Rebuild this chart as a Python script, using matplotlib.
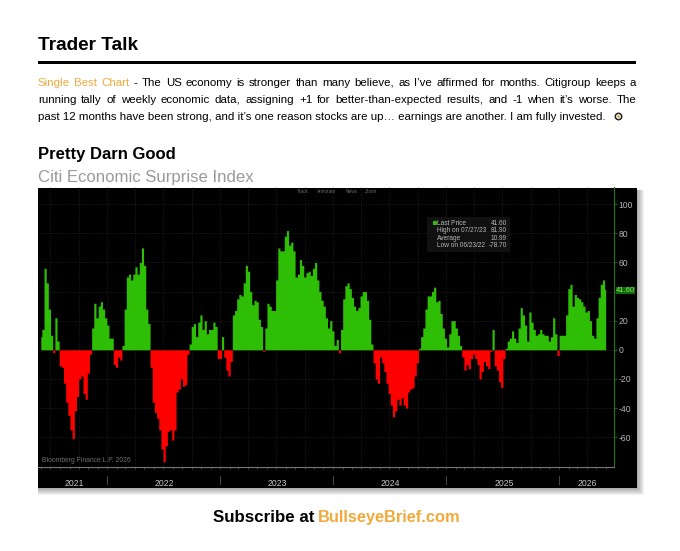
import numpy as np
import pandas as pd
import matplotlib
matplotlib.use("Agg")
import matplotlib.pyplot as plt
import matplotlib.dates as mdates
from matplotlib.patches import Rectangle

W, H = 680, 551
TITLE = "Trader Talk"
ORANGE = "#F2A93B"
LEAD = "Single Best Chart"
LINE1 = "- The US economy is stronger than many believe, as I\u2019ve affirmed for months. Citigroup keeps a"
LINE2 = "running tally of weekly economic data, assigning +1 for better-than-expected results, and -1 when it\u2019s worse. The"
LINE3 = "past 12 months have been strong, and it\u2019s one reason stocks are up\u2026 earnings are another. I am fully invested."
HEAD = "Pretty Darn Good"
SUB = "Citi Economic Surprise Index"
CTA1 = "Subscribe at"
CTA2 = "BullseyeBrief.com"

surprise_index = [
    9, 14, 56, 46, 28, 10, -2, 22, 6, -11, -12, -23, -36, -45, -55, -61, -42, -32, -20, -18, -30, -34, -16, -3,
    15, 32, 22, 30, 33, 28, 22, 17, 8, 8, -10, -12, -5, -7, 3, 28, 50, 52, 48, 52, 57, 52, 60, 70, 58, 28, 18,
    -12, -36, -43, -47, -55, -68, -77, -66, -56, -55, -62, -55, -29, -27, -20, -25, -24, -3,
    4, 16, 18, 9, 19, 24, 14, 20, 11, 14, 14, 19, 16, -6, -6, 9, -5, -14, -18, -8,
    24, 27, 35, 38, 37, 46, 58, 54, 40, 31, 34, 33, 21, 16, -1, 15, 32, 30, 27, 27, 48, 70, 68, 68, 78, 81.9, 72, 74, 68,
    50, 52, 62, 58, 50, 53, 54, 51, 56, 60, 48, 40, 34, 30, 22, 15,
    20, 13, 3, 7, -2, 14, 35, 44, 46, 42, 36, 30, 27, 29, 37, 40, 40, 34, 21, 4,
    -9, -20, -23, -5, -9, -15, -23, -30, -38, -46, -42, -34, -38, -33, -38, -40, -29, -27, -26, -18, -9,
    1, 9, 15, 28, 37, 37, 40, 43, 33, 34, 25, 15, 8, 2, 11, 20, 20, 15, 10, 3,
    -5, -14, -10, -13, -6, -3, -6, -10, -20, -15, -8, -11, -13, -1, 14, -11, -14, -22, -26, -6,
    1, 6, 8, 13, 8, 5, 15, 29, 24, 17, 6, 26, 19, 14, 10, 11, 14, 11, 10, 10, 6, 9, 22, 11, -4, 10, 10, 10, 24, 42, 45, 30,
    38, 36, 35, 33, 30, 26, 27, 20, 10, 8, 22, 36, 45, 48, 41.6,
]
y_ticks = [-60, -40, -20, 0, 20, 40, 60, 80, 100]
y_tick_labels = ["-60", "-40", "-20", "0", "20", "", "60", "80", "100"]
year_labels = ["2021", "2022", "2023", "2024", "2025", "2026"]
year_label_dates = ["2021-09-16", "2022-07-05", "2023-07-05", "2024-07-04", "2025-07-08", "2026-04-03"]
year_starts = ["2022-01-01", "2023-01-01", "2024-01-01", "2025-01-01", "2026-01-01"]
legend_names = ["Last Price", "High on 07/27/23", "Average", "Low on 06/23/22"]
legend_values = ["41.60", "81.90", "10.99", "-78.70"]
toolbar = ["Track", "Annotate", "News", "Zoom"]

plt.rcParams["font.family"] = ["Liberation Sans", "DejaVu Sans"]
fig = plt.figure(figsize=(W / 100, H / 100), dpi=100, facecolor="white")
fx = lambda x: x / W
fy = lambda y: 1 - y / H
rnd = fig.canvas.get_renderer()


def fit(x0, x1, y, s, **kw):
    t = fig.text(fx(x0), fy(y), s, ha="left", va="baseline", fontsize=10, **kw)
    t.set_fontsize(10 * (x1 - x0) / t.get_window_extent(rnd).width)
    return t


def rect(x0, y0, x1, y1, **kw):
    fig.add_artist(Rectangle((fx(x0), fy(y1)), (x1 - x0) / W, (y1 - y0) / H,
                             transform=fig.transFigure, lw=0, **kw))


def justified(words, colors, x0, x1, y, size):
    """Lay words out across x0..x1 with equal gaps, like the justified block of the reference."""
    items = [fig.text(fx(x0), fy(y), w, color=c, fontsize=size, va="baseline") for w, c in zip(words, colors)]
    widths = [t.get_window_extent(rnd).width for t in items]
    gap = (x1 - x0 - sum(widths)) / (len(items) - 1)
    x = x0
    for t, w in zip(items, widths):
        t.set_x(fx(x))
        x += w + gap


fit(38, 138, 50, TITLE, color="black", fontweight="bold")
rect(38, 61, 636, 64, color="black")

probe = fit(38, 607, 120, LINE3, color="black")
body = probe.get_fontsize()
probe.remove()
w1 = LEAD.split() + LINE1.split()
justified(w1, [ORANGE] * 3 + ["black"] * (len(w1) - 3), 38, 636, 85.75, body)
w2 = LINE2.split()
justified(w2, ["black"] * len(w2), 38, 636, 102.75, body)
fig.text(fx(38), fy(119.75), LINE3, color="black", fontsize=body, va="baseline")

fig.add_artist(plt.Line2D([fx(618)], [fy(116)], marker="o", ms=4.6, mfc="white", mec="#222222", mew=1.1,
                          transform=fig.transFigure))
fig.add_artist(plt.Line2D([fx(618)], [fy(116)], marker="o", ms=1.8, mfc="#D89020", mec="none",
                          transform=fig.transFigure))
fit(38, 176, 159, HEAD, color="black", fontweight="bold")
fit(38, 254, 182, SUB, color="#9a9a9a")
fit(213, 314, 522, CTA1, color="black", fontweight="bold")
fit(318, 461, 522, CTA2, color=ORANGE, fontweight="bold")

for g in range(1, 8):
    rect(38, 190, 637 + g, 488 + g, color="black", alpha=0.05)
rect(37.5, 187.5, 637, 488, color="black", zorder=1.5)

ax = fig.add_axes([fx(38), fy(467), (614 - 38) / W, (467 - 187.5) / H], facecolor="black", zorder=2)
ax.patch.set_alpha(0)
values = np.array(surprise_index, dtype=float)
dates = pd.date_range("2021-05-31", periods=len(values), freq="7D")
x = mdates.date2num(dates)
ax.fill_between(x, 0, np.where(values >= 0, values, 0), step="mid", color="#2DBE05", lw=0, zorder=3)
ax.fill_between(x, 0, np.where(values < 0, values, 0), step="mid", color="#FF0000", lw=0, zorder=3)

ax.set_xlim(mdates.date2num(pd.Timestamp("2021-05-22")), mdates.date2num(pd.Timestamp("2026-06-28")))
ax.set_ylim(-80.5, 111.5)
for s in ["top", "left"]:
    ax.spines[s].set_visible(False)
ax.spines["right"].set_color("#1e7a10")
ax.spines["right"].set_linewidth(0.8)
ax.spines["bottom"].set_color("#777777")
ax.spines["bottom"].set_linewidth(0.8)
ax.yaxis.tick_right()
ax.set_yticks(y_ticks)
ax.set_yticklabels(y_tick_labels)
ax.tick_params(axis="y", colors="#1e7a10", labelcolor="#b5b5b5", labelsize=6.2, length=2, width=0.6, pad=1)
ax.set_xticks([mdates.date2num(pd.Timestamp(d)) for d in year_label_dates])
ax.set_xticklabels(year_labels)
ax.tick_params(axis="x", length=0, labelsize=6.2, labelcolor="#c8c8c8", pad=8.5)
quarters = pd.date_range("2021-07-01", "2026-04-01", freq="QS")
months = pd.date_range("2021-06-01", "2026-06-01", freq="MS")
ax.set_xticks([mdates.date2num(m) for m in months], minor=True)
ax.tick_params(axis="x", which="minor", length=1.2, width=0.4, color="#777777")
ax.yaxis.grid(True, color="#333333", lw=0.5, ls=(0, (1, 2)), zorder=1)
for q in quarters:
    ax.axvline(mdates.date2num(q), color="#333333", lw=0.5, ls=(0, (1, 2)), zorder=1)

tr = fig.transFigure
for d in year_starts:
    n = mdates.date2num(pd.Timestamp(d))
    px = ax.transData.transform((n, 0))[0]
    fig.add_artist(plt.Line2D([px / W, px / W], [fy(476), fy(484)], color="#555555", lw=0.6, transform=tr, zorder=3))

for name, px in zip(toolbar, [303, 327, 352, 371]):
    fig.text(fx(px), fy(191.5), name, color="#6a6a6a", fontsize=3.4, ha="center", va="center", zorder=3)

rect(427, 217, 510, 252, color="#111111", zorder=2.5)
rect(433, 221, 436.5, 225, color="#2DBE05", zorder=3)
for i, (n, v) in enumerate(zip(legend_names, legend_values)):
    yy = 223.5 + i * 7.35
    fig.text(fx(437), fy(yy), n, color="#b8b8b8", fontsize=4.7, va="center", zorder=3)
    fig.text(fx(507), fy(yy), v, color="#b8b8b8", fontsize=4.7, va="center", ha="right", zorder=3)

rect(616, 286.5, 635, 293.5, color="#0F6B08", zorder=2.5)
fig.text(fx(625.5), fy(290), legend_values[0], color="#8BEA70", fontsize=5.4, ha="center", va="center", zorder=3)
fig.text(fx(42), fy(460.5), "Bloomberg Finance L.P. 2026", color="#6e6e6e", fontsize=4.9, va="center", zorder=3)

fig.savefig("out.png", dpi=100, facecolor="white")
